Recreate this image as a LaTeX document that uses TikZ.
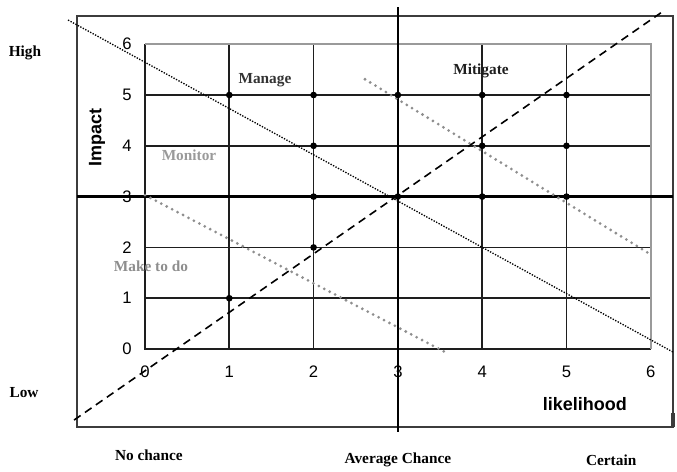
\documentclass[tikz,border=0pt]{standalone}
\usepackage{fontspec}
\setmainfont{Liberation Serif}
\setsansfont{Liberation Sans}
\usetikzlibrary{calc}
\definecolor{cink}{HTML}{1E1E1E}
\definecolor{cedge}{HTML}{9A9A9A}
\definecolor{cframe}{HTML}{3C3C3C}
\definecolor{czone}{HTML}{8E8E8E}
\definecolor{cmanage}{HTML}{333333}

\begin{document}
\begin{tikzpicture}[
  x=63.25pt, y=38.12pt,
  gridline/.style={draw=cink, line width=1.35pt},
  edgeline/.style={draw=cedge, line width=1.3pt},
  axisline/.style={draw=black, line width=1.7pt},
  frameline/.style={draw=cframe, line width=1.5pt},
  riskdot/.style={fill=black, circle, inner sep=0pt, minimum size=5pt},
  ticklabel/.style={font=\sffamily\fontsize{12.5}{14}\selectfont, inner sep=0pt},
  axislabel/.style={font=\sffamily\bfseries\fontsize{13.5}{15}\selectfont, inner sep=0pt},
  scalelabel/.style={font=\bfseries\fontsize{11.5}{13}\selectfont, inner sep=0pt},
  zonelabel/.style={font=\bfseries\fontsize{11.5}{13}\selectfont, inner sep=0pt},
  thindots/.style={draw=black, line width=1pt, dash pattern=on 1pt off 1.1pt},
  greydots/.style={draw=czone, line width=2.3pt, line cap=round,
    dash pattern=on 0pt off 4.6pt},
  splitline/.style={draw=black, line width=1.2pt, dash pattern=on 6pt off 4pt}
]
\useasboundingbox (-1.720,-2.402) rectangle (6.311,6.870);

% ============================================================
% Outer frame and the two crossing axes
% ============================================================
\draw[frameline] (-0.807,-1.535) rectangle (6.263,6.555);
\draw[line width=2.6pt, draw=cframe] (6.263,-1.26) -- (6.263,-1.535);

% ============================================================
% 6 x 6 grid
% ============================================================
\foreach \i in {1,...,5} {
  \draw[gridline] (\i,0) -- (\i,6);
  \draw[gridline] (0,\i) -- (6,\i);
}
\draw[gridline] (0,6) -- (0,0) -- (6,0);
\draw[edgeline] (0,6) -- (6,6) -- (6,0);

\draw[axisline] (-0.807,3) -- (6.263,3);
\draw[axisline] (3,6.732) -- (3,-1.634);

% tick labels
\foreach \i in {0,...,6} {
  \node[ticklabel] (ty\i) at (-0.214,\i) {\i};
  \node[ticklabel] (tx\i) at (\i,-0.453) {\i};
}

\node[axislabel, rotate=90] (impact) at (-0.569,4.173) {Impact};
\node[axislabel] (likelihood) at (5.219,-1.083) {likelihood};

% ============================================================
% Zone boundaries
% ============================================================
\coordinate (tdA) at (-0.913,6.476);
\coordinate (tdB) at (6.263,-0.059);
\coordinate (dsA) at (-0.842,-1.398);
\coordinate (dsB) at (6.168,6.673);
\coordinate (gaA) at (0,3.03);
\coordinate (gaB) at (3.56,-0.06);
\coordinate (gbA) at (2.61,5.31);
\coordinate (gbB) at (5.99,1.87);

\draw[thindots] (tdA) -- (tdB);
\draw[splitline] (dsA) -- (dsB);
\draw[greydots] (gaA) -- (gaB);
\draw[greydots] (gbA) -- (gbB);

% risk points
\foreach \px/\py in {1/5, 2/5, 3/5, 4/5, 5/5, 2/4, 4/4, 5/4,
                     2/3, 3/3, 4/3, 5/3, 2/2, 1/1} {
  \node[riskdot] (p\px\py) at (\px,\py) {};
}

% zone names
\node[zonelabel, cmanage] (manage) at (1.423,5.295) {Manage};
\node[zonelabel, cink] (mitigate) at (3.986,5.472) {Mitigate};
\node[zonelabel, cedge] (monitor) at (0.522,3.819) {Monitor};
\node[zonelabel, czone] (maketodo) at (0.071,1.634) {Make to do};

% ============================================================
% Scale words outside the frame
% ============================================================
\node[scalelabel] (high) at (-1.424,5.827) {High};
\node[scalelabel] (low) at (-1.435,-0.866) {Low};
\node[scalelabel] (nochance) at (0.047,-2.087) {No chance};
\node[scalelabel] (average) at (3.0,-2.185) {Average Chance};
\node[scalelabel] (certain) at (5.53,-2.185) {Certain};

\end{tikzpicture}
\end{document}
